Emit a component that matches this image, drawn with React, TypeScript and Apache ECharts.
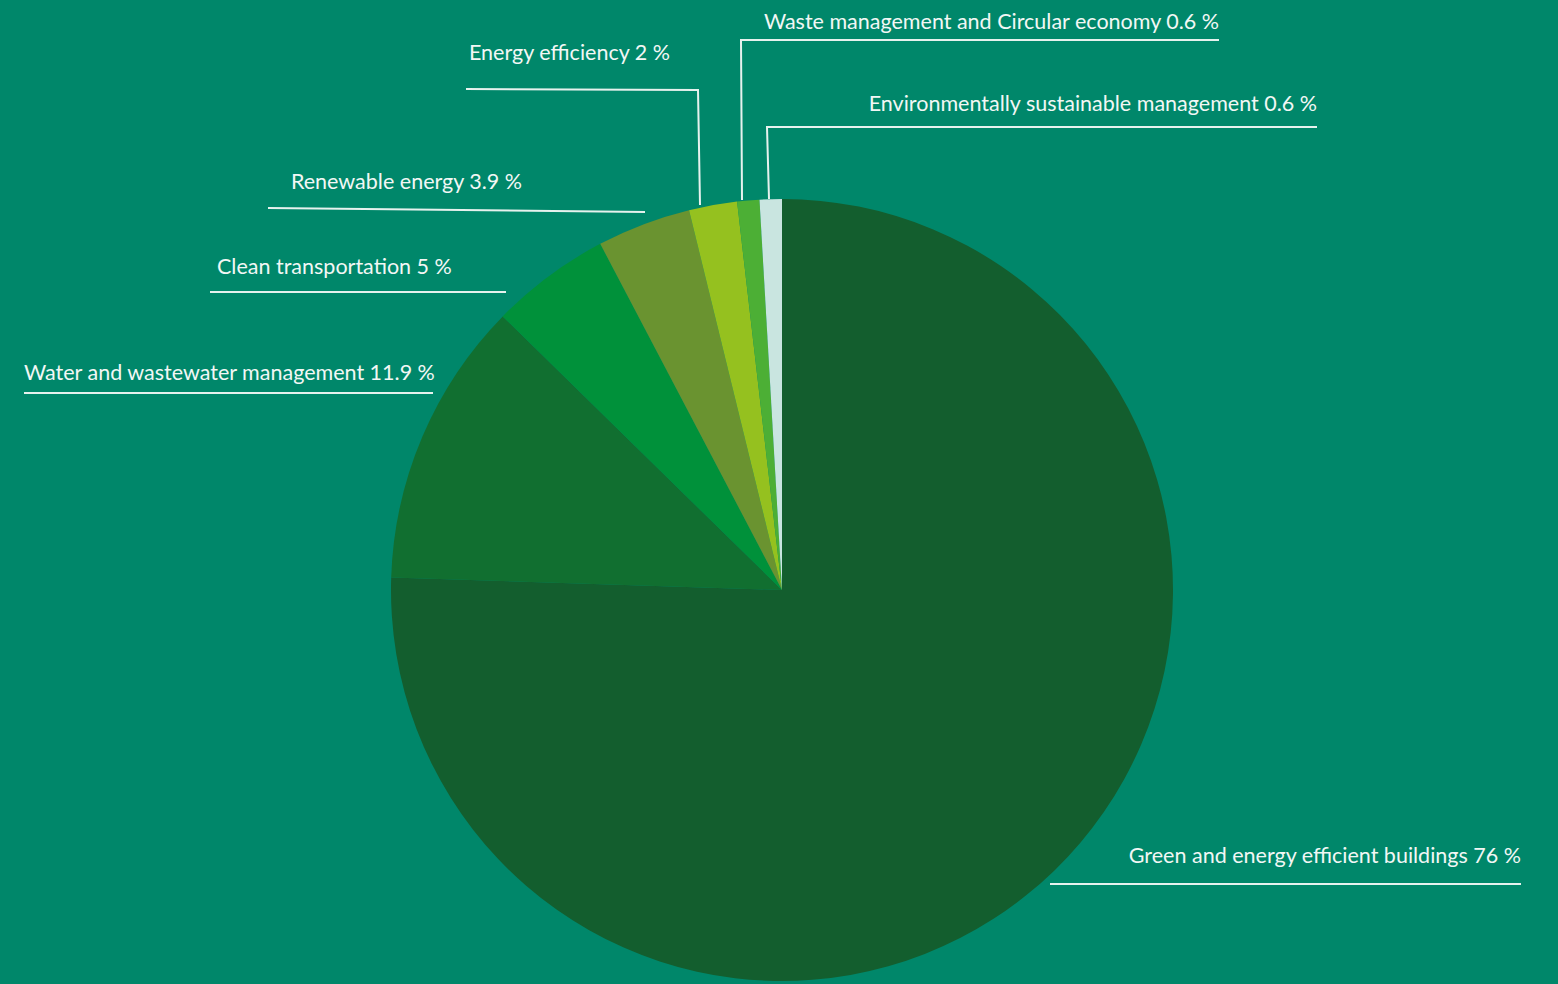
import React, { useEffect, useRef } from "react";
import * as echarts from "echarts";

const categories = [
  "Green and energy efficient buildings",
  "Water and wastewater management",
  "Clean transportation",
  "Renewable energy",
  "Energy efficiency",
  "Waste management and Circular economy",
  "Environmentally sustainable management",
];
const shares = [76, 11.9, 5, 3.9, 2, 0.6, 0.6];
const sliceColors = ["#135e2e", "#116f30", "#00913a", "#6a9330", "#95c11f", "#4caf35", "#c9e5e0"];

// label placement (layout only)
const labelPlacement = [
  { x: 1521, y: 855, align: "right", line: [[1050, 884], [1050, 884], [1521, 884]] },
  { x: 24, y: 372, align: "left", line: [[433, 393], [433, 393], [24, 393]] },
  { x: 217, y: 266, align: "left", line: [[506, 292], [506, 292], [210, 292]] },
  { x: 291, y: 181, align: "left", line: [[645, 212], [645, 212], [268, 208]] },
  { x: 469, y: 52, align: "left", line: [[700, 205], [698, 90], [466, 89]] },
  { x: 1219, y: 21, align: "right", line: [[742, 200], [741, 40], [1219, 40]] },
  { x: 1317, y: 103, align: "right", line: [[769, 199], [767, 127], [1317, 127]] },
];

export default function App() {
  const ref = useRef<HTMLDivElement>(null);
  useEffect(() => {
    document.body.style.margin = "0";
    document.body.style.overflow = "hidden";
    const chart = echarts.init(ref.current!, null, { renderer: "svg" });
    chart.setOption({
      animation: false,
      backgroundColor: "#00876a",
      series: [
        {
          type: "pie",
          center: [782, 590],
          radius: 391,
          startAngle: 90,
          clockwise: true,
          minAngle: 3.3,
          avoidLabelOverlap: false,
          silent: true,
          emphasis: { disabled: true },
          data: categories.map((name, i) => ({
            name,
            value: shares[i],
            itemStyle: { color: sliceColors[i] },
          })),
          label: {
            show: true,
            position: "outside",
            formatter: "{b} {c} %",
            color: "#f2f7f5",
            fontFamily: "Lato",
            fontSize: 21.5,
          },
          labelLine: {
            show: true,
            smooth: false,
            lineStyle: { color: "#e6f2ee", width: 2 },
          },
          labelLayout: (params: any) => {
            const p = labelPlacement[params.dataIndex];
            return {
              x: p.x,
              y: p.y,
              align: p.align,
              verticalAlign: "middle",
              labelLinePoints: p.line,
            };
          },
        },
      ],
    });
    return () => chart.dispose();
  }, []);
  return <div ref={ref} style={{ width: 1558, height: 984 }} />;
}
